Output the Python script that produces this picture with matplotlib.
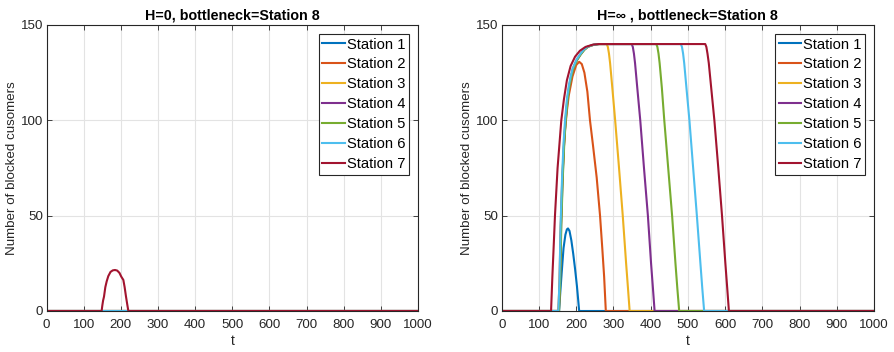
import matplotlib
matplotlib.use("Agg")
import matplotlib.pyplot as plt

plt.rcParams['font.family'] = ['Liberation Sans', 'DejaVu Sans']

stations = ["Station 1", "Station 2", "Station 3", "Station 4",
            "Station 5", "Station 6", "Station 7"]
colors = ["#0072BD", "#D95319", "#EDB120", "#7E2F8E", "#77AC30", "#4DBEEE", "#A2142F"]

titles = ["H=0, bottleneck=Station 8", "H=\u221e , bottleneck=Station 8"]
xticks = [0, 100, 200, 300, 400, 500, 600, 700, 800, 900, 1000]
yticks = [0, 50, 100, 150]

# ---- Left panel (H=0): only Station 7 becomes non-zero ----
left_t_s1 = [0, 1000]; left_y_s1 = [0, 0]
left_t_s2 = [0, 1000]; left_y_s2 = [0, 0]
left_t_s3 = [0, 1000]; left_y_s3 = [0, 0]
left_t_s4 = [0, 1000]; left_y_s4 = [0, 0]
left_t_s5 = [0, 1000]; left_y_s5 = [0, 0]
left_t_s6 = [0, 1000]; left_y_s6 = [0, 0]
left_t_s7 = [0, 148, 150, 152, 154.4, 158, 161.6, 166, 172, 178, 184, 190, 196, 201, 206.5, 210, 213.7, 217, 220, 1000]
left_y_s7 = [0, 0, 3, 5.5, 7.5, 12.5, 15.5, 18.3, 20.5, 21.3, 21.5, 21.2, 20, 18, 16.3, 12.5, 7.5, 3.5, 0, 0]

# ---- Right panel (H=inf) ----
right_t_s1 = [0, 154, 157, 161, 166, 171, 175, 178, 182, 187, 192, 197, 202, 208, 1000]
right_y_s1 = [0, 0, 9, 20, 33, 40, 42.8, 43.3, 42, 37, 30, 22, 13, 0, 0]

right_t_s2 = [0, 152, 155, 158, 162, 166, 170, 175, 180, 190, 200, 208, 215, 222, 230, 237, 245, 255, 264, 270, 275, 279.5, 1000]
right_y_s2 = [0, 0, 14, 42, 66, 83, 95, 105, 113, 123, 129, 130.7, 129.5, 125, 115, 100, 87, 70, 50, 33, 18, 0, 0]

right_t_s3 = [0, 153, 156, 159, 163, 167, 171, 176, 181, 186, 191, 201, 211, 221, 231, 246, 261,
              282, 285, 288, 291, 297, 304.6, 315, 325, 334, 339, 343.5, 1000]
right_y_s3 = [0, 0, 15, 45, 70, 88, 100, 111, 118, 123, 127, 131.5, 134.5, 137, 138.6, 139.6, 140,
              140, 138.5, 135, 130, 117, 100, 75, 50, 25, 12, 0, 0]

right_t_s4 = [0, 153.5, 156.5, 159.5, 163.5, 167.5, 171.5, 176.5, 181.5, 186.5, 191.5, 201.5, 211.5, 221.5, 231.5, 246.5, 261.5,
              349, 352, 355, 358, 364, 372, 382, 392.5, 401, 406, 410.5, 1000]
right_y_s4 = [0, 0, 15, 45, 70, 88, 100, 111, 118, 123, 127, 131.5, 134.5, 137, 138.6, 139.6, 140,
              140, 138.5, 135, 130, 117, 100, 75, 50, 25, 12, 0, 0]

right_t_s5 = [0, 154, 157, 160, 164, 168, 172, 177, 182, 187, 192, 202, 212, 222, 232, 247, 262,
              415, 418, 421, 424, 430, 436.5, 447, 457.5, 466.5, 471.5, 476.5, 1000]
right_y_s5 = [0, 0, 15, 45, 70, 88, 100, 111, 118, 123, 127, 131.5, 134.5, 137, 138.6, 139.6, 140,
              140, 138.5, 135, 130, 117, 100, 75, 50, 25, 12, 0, 0]

right_t_s6 = [0, 152, 155, 158, 162, 166, 170, 175, 180, 185, 190, 200, 210, 220, 230, 245, 260,
              481, 484, 487, 490, 496, 504, 514, 524, 533.5, 538.5, 543.5, 1000]
right_y_s6 = [0, 0, 15, 45, 70, 88, 100, 111, 118, 123, 127, 131.5, 134.5, 137, 138.6, 139.6, 140,
              140, 138.5, 135, 130, 117, 100, 75, 50, 25, 12, 0, 0]

right_t_s7 = [0, 132.5, 136, 140, 143, 150, 160, 167, 175, 185, 197, 210, 225, 245, 260,
              546.5, 549.5, 552.5, 556, 562.5, 571, 581.5, 591.5, 600.5, 605.5, 610, 1000]
right_y_s7 = [0, 0, 18, 36, 50, 75, 100, 111, 121, 128.5, 133.4, 136.5, 138.5, 139.7, 140,
              140, 138.5, 135, 130, 117, 100, 75, 50, 25, 12, 0, 0]

left_series = [(left_t_s1, left_y_s1), (left_t_s2, left_y_s2), (left_t_s3, left_y_s3),
               (left_t_s4, left_y_s4), (left_t_s5, left_y_s5), (left_t_s6, left_y_s6),
               (left_t_s7, left_y_s7)]
right_series = [(right_t_s1, right_y_s1), (right_t_s2, right_y_s2), (right_t_s3, right_y_s3),
                (right_t_s4, right_y_s4), (right_t_s5, right_y_s5), (right_t_s6, right_y_s6),
                (right_t_s7, right_y_s7)]

fig = plt.figure(figsize=(8.94, 3.52), dpi=100)
ax1 = fig.add_axes([0.0522, 0.1165, 0.4153, 0.8125])
ax2 = fig.add_axes([0.5612, 0.1165, 0.4166, 0.8125])

axcol = "#262626"
for ax, series, title in [(ax1, left_series, titles[0]), (ax2, right_series, titles[1])]:
    for (tt, yy), name, c in zip(series, stations, colors):
        ax.plot(tt, yy, color=c, lw=1.5, label=name, solid_joinstyle='round')
    ax.set_xlim(0, 1000)
    ax.set_ylim(0, 150)
    ax.set_xticks(xticks)
    ax.set_yticks(yticks)
    ax.grid(True, color="#e3e3e3", lw=0.8)
    ax.set_axisbelow(True)
    for s in ax.spines.values():
        s.set_color(axcol)
        s.set_linewidth(0.8)
    ax.tick_params(direction='in', top=True, right=True, length=3.5, width=0.6,
                   colors=axcol, labelsize=9.6, labelcolor="#262626")
    ax.tick_params(axis='x', pad=5.5)
    ax.tick_params(axis='y', pad=2.5)
    ax.set_xlabel("t", fontsize=10, labelpad=2.5, color="#262626")
    ax.set_ylabel("Number of blocked cusomers", fontsize=9.6, labelpad=2, color="#262626")
    ax.set_title(title, fontsize=10.3, fontweight='bold', pad=4, color="#000000")
    leg = ax.legend(loc='upper right', fontsize=10.6, frameon=True, fancybox=False,
                    framealpha=1, edgecolor="#262626", handlelength=1.5, handletextpad=0.16,
                    borderpad=0.25, labelspacing=0.4, borderaxespad=0.6)
    leg.get_frame().set_linewidth(0.8)

fig.savefig("out.png", dpi=100)
